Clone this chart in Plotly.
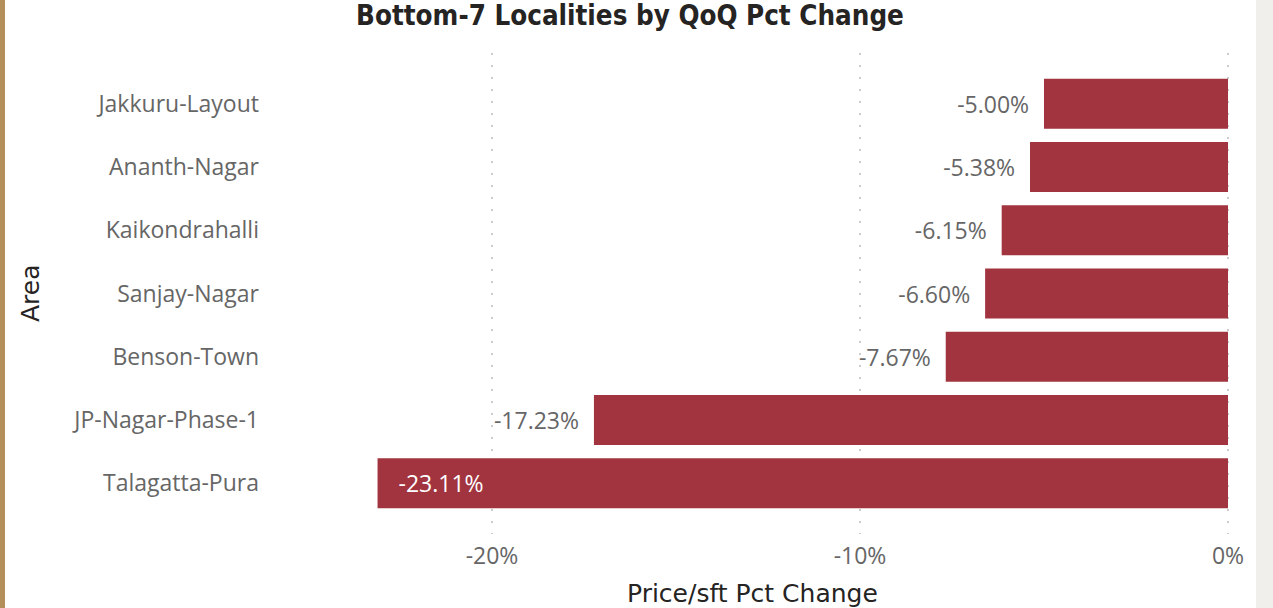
import plotly.graph_objects as go

areas = ["Jakkuru-Layout", "Ananth-Nagar", "Kaikondrahalli", "Sanjay-Nagar",
         "Benson-Town", "JP-Nagar-Phase-1", "Talagatta-Pura"]
pct_change = [-5.00, -5.38, -6.15, -6.60, -7.67, -17.23, -23.11]
tick_vals = [-20, -10, 0]
tick_text = ["-20%", "-10%", "0%"]

W, H = 1273, 608
L, R, T, B = 270, 43, 53, 74
pw, ph = W - L - R, H - T - B
FS = 23

labels = []
positions = []
for v in pct_change:
    if v < -20:
        labels.append("\u00a0\u00a0\u00a0" + f"{v:.2f}%")
        positions.append("inside")
    else:
        labels.append(f"{v:.2f}%" + "\u00a0\u00a0")
        positions.append("outside")

fig = go.Figure(go.Bar(
    x=pct_change, y=areas, orientation="h",
    marker=dict(color="#A1343F", line=dict(width=0)),
    width=0.79,
    text=labels, textposition=positions, insidetextanchor="end",
    outsidetextfont=dict(family="Open Sans", size=FS, color="#666666"),
    insidetextfont=dict(family="Open Sans", size=FS, color="#ffffff"),
    cliponaxis=False,
))

shapes = [
    dict(type="rect", xref="paper", yref="paper", layer="below",
         x0=-L / pw, x1=(5 - L) / pw, y0=-B / ph, y1=1 + T / ph,
         fillcolor="#B58F59", line=dict(width=0)),
    dict(type="rect", xref="paper", yref="paper", layer="below",
         x0=(1256 - L) / pw, x1=(W - L) / pw, y0=-B / ph, y1=1 + T / ph,
         fillcolor="#F0EFEC", line=dict(width=0)),
]

annotations = [
    dict(text="Price/sft Pct Change", xref="paper", yref="paper",
         x=(752 - L) / pw, y=-(593 - (H - B)) / ph, xanchor="center", yanchor="middle",
         showarrow=False,
         font=dict(family="DejaVu Sans", size=25, color="#252423")),
    dict(text="Area", xref="paper", yref="paper", textangle=-90,
         x=(30 - L) / pw, y=1 - (293 - T) / ph, xanchor="center", yanchor="middle",
         showarrow=False,
         font=dict(family="DejaVu Sans", size=25, color="#252423")),
]

fig.update_layout(
    width=W, height=H,
    margin=dict(l=L, r=R, t=T, b=B, autoexpand=False),
    paper_bgcolor="#ffffff", plot_bgcolor="#ffffff",
    showlegend=False,
    shapes=shapes,
    annotations=annotations,
    title=dict(text="<b>Bottom-7 Localities by QoQ Pct Change</b>",
               x=630 / W, xanchor="center", y=1 - 15 / H, yanchor="middle",
               yref="container", xref="container",
               font=dict(family="DejaVu Sans Condensed", size=27.5, color="#252423")),
    xaxis=dict(range=[-(1228 - L) / 36.8, (1230 - 1228) / 36.8],
               tickvals=tick_vals, ticktext=tick_text, automargin=False,
               tickfont=dict(family="Open Sans", size=FS, color="#666666"),
               showgrid=True, gridcolor="#CCCCCC", gridwidth=2, griddash="2px,10px",
               zeroline=False, showline=False, ticks="", ticklabelstandoff=6),
    yaxis=dict(categoryorder="array", categoryarray=areas, autorange=False,
               range=[6.8, -0.8], automargin=False,
               tickfont=dict(family="Open Sans", size=FS, color="#666666"),
               showgrid=False, zeroline=False, showline=False, ticks="",
               ticklabelstandoff=10),
)

fig.write_html("out.html", config={"displayModeBar": False},
               post_script="document.body.style.margin='0';")
